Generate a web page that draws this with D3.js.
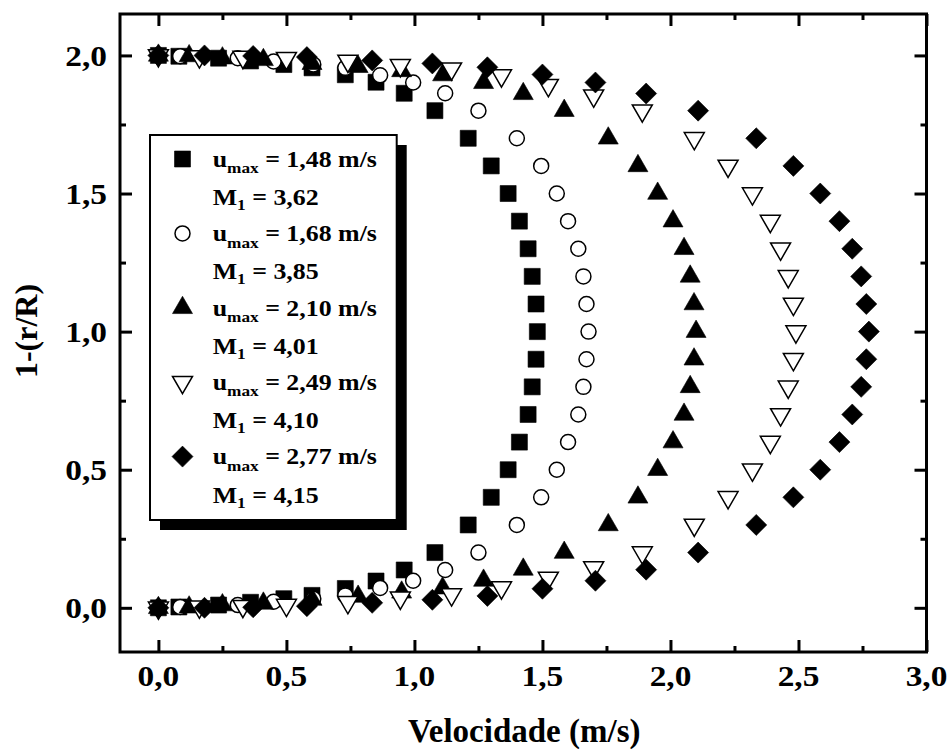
<!DOCTYPE html>
<html><head><meta charset="utf-8">
<script src="https://cdn.jsdelivr.net/npm/d3@7"></script>
<style>
body{margin:0;background:#fff}
svg{display:block}
text{font-family:"Liberation Serif","Times New Roman",serif;font-weight:bold;fill:#000}
</style>
</head><body>
<svg id="chart" width="949" height="756"></svg>
<script>
// ---- data (x = velocity m/s, y = 1-(r/R)) ----
const seriesUmax = ["1,48", "1,68", "2,10", "2,49", "2,77"];
const seriesM1 = ["3,62", "3,85", "4,01", "4,10", "4,15"];

const squareData = [[0,0],[0.08,0.003],[0.235,0.01],[0.36,0.02],[0.49,0.033],[0.6,0.045],[0.73,0.07],[0.85,0.097],[0.96,0.137],[1.08,0.2],[1.21,0.3],[1.3,0.4],[1.366,0.5],[1.41,0.6],[1.444,0.7],[1.46,0.8],[1.475,0.9],[1.48,1.0],[1.475,1.1],[1.46,1.2],[1.444,1.3],[1.41,1.4],[1.366,1.5],[1.3,1.6],[1.21,1.7],[1.08,1.8],[0.96,1.863],[0.85,1.903],[0.73,1.93],[0.6,1.955],[0.49,1.967],[0.36,1.98],[0.235,1.99],[0.08,1.997],[0,2.0]];

const circleData = [[0,0],[0.085,0.003],[0.31,0.01],[0.45,0.022],[0.605,0.033],[0.73,0.045],[0.866,0.072],[0.995,0.098],[1.12,0.137],[1.25,0.2],[1.4,0.3],[1.495,0.4],[1.556,0.5],[1.6,0.6],[1.64,0.7],[1.66,0.8],[1.672,0.9],[1.68,1.0],[1.672,1.1],[1.66,1.2],[1.64,1.3],[1.6,1.4],[1.556,1.5],[1.495,1.6],[1.4,1.7],[1.25,1.8],[1.12,1.863],[0.995,1.902],[0.866,1.928],[0.73,1.955],[0.605,1.967],[0.45,1.978],[0.31,1.99],[0.085,1.997],[0,2.0]];

const triangleData = [[0,0],[0.12,0.002],[0.25,0.01],[0.41,0.016],[0.6,0.03],[0.78,0.041],[0.95,0.056],[1.11,0.071],[1.27,0.099],[1.425,0.139],[1.585,0.2],[1.757,0.3],[1.873,0.4],[1.95,0.5],[2.01,0.6],[2.053,0.7],[2.077,0.8],[2.092,0.9],[2.1,1.0],[2.092,1.1],[2.077,1.2],[2.053,1.3],[2.01,1.4],[1.95,1.5],[1.873,1.6],[1.757,1.7],[1.585,1.8],[1.425,1.861],[1.27,1.901],[1.11,1.929],[0.95,1.944],[0.78,1.959],[0.6,1.97],[0.41,1.984],[0.25,1.99],[0.12,1.998],[0,2.0]];

const invTriangleData = [[0,0],[0.16,0.004],[0.33,0.006],[0.5,0.01],[0.74,0.02],[0.945,0.036],[1.145,0.048],[1.34,0.073],[1.523,0.108],[1.7,0.146],[1.89,0.2],[2.093,0.3],[2.225,0.4],[2.32,0.5],[2.39,0.6],[2.43,0.7],[2.46,0.8],[2.48,0.9],[2.49,1.0],[2.48,1.1],[2.46,1.2],[2.43,1.3],[2.39,1.4],[2.32,1.5],[2.225,1.6],[2.093,1.7],[1.89,1.8],[1.7,1.854],[1.523,1.892],[1.34,1.927],[1.145,1.952],[0.945,1.964],[0.74,1.98],[0.5,1.99],[0.33,1.994],[0.16,1.996],[0,2.0]];

const diamondData = [[0,0],[0.18,0],[0.37,0.002],[0.58,0.006],[0.835,0.018],[1.07,0.029],[1.285,0.043],[1.5,0.069],[1.707,0.098],[1.905,0.138],[2.108,0.2],[2.335,0.3],[2.48,0.4],[2.585,0.5],[2.66,0.6],[2.71,0.7],[2.745,0.8],[2.765,0.9],[2.775,1.0],[2.765,1.1],[2.745,1.2],[2.71,1.3],[2.66,1.4],[2.585,1.5],[2.48,1.6],[2.335,1.7],[2.108,1.8],[1.905,1.862],[1.707,1.902],[1.5,1.931],[1.285,1.957],[1.07,1.971],[0.835,1.982],[0.58,1.994],[0.37,1.998],[0.18,2.0],[0,2.0]];

const xMajorTicks = [0, 0.5, 1.0, 1.5, 2.0, 2.5, 3.0];
const xTickLabels = ["0,0", "0,5", "1,0", "1,5", "2,0", "2,5", "3,0"];
const xMinorTicks = [0.25, 0.75, 1.25, 1.75, 2.25, 2.75];
const yMajorTicks = [0, 0.5, 1.0, 1.5, 2.0];
const yTickLabels = ["0,0", "0,5", "1,0", "1,5", "2,0"];
const yMinorTicks = [0.25, 0.75, 1.25, 1.75];

// ---- layout ----
const svg = d3.select("#chart");
const L = 120, R = 926.5, T = 14, B = 652;
const x = d3.scaleLinear().domain([-0.15, 3.0]).range([L, R]);
const y = d3.scaleLinear().domain([-0.16, 2.15]).range([B, T]);

// marker shapes (centred on centroid)
const shapes = {
  square: s => { const h = 8; return `M${-h},${-h}H${h}V${h}H${-h}Z`; },
  circle: s => { const r = 7.5; return `M${r},0A${r},${r} 0 1,1 ${-r},0A${r},${r} 0 1,1 ${r},0Z`; },
  triangle: s => { const a = 20, h = a*Math.sqrt(3)/2; return `M0,${-2*h/3}L${a/2},${h/3}L${-a/2},${h/3}Z`; },
  invTriangle: s => { const a = 20, h = a*Math.sqrt(3)/2; return `M0,${2*h/3}L${a/2},${-h/3}L${-a/2},${-h/3}Z`; },
  diamond: s => { const d = 10.5; return `M0,${-d}L${d},0L0,${d}L${-d},0Z`; }
};
const series = [
  {data: squareData, shape: "square", fill: "#000"},
  {data: circleData, shape: "circle", fill: "#fff"},
  {data: triangleData, shape: "triangle", fill: "#000"},
  {data: invTriangleData, shape: "invTriangle", fill: "#fff"},
  {data: diamondData, shape: "diamond", fill: "#000"}
];

// points
series.forEach(s => {
  svg.append("g").selectAll("path").data(s.data).join("path")
    .attr("d", shapes[s.shape]())
    .attr("transform", d => `translate(${x(d[0])},${y(d[1])})`)
    .attr("fill", s.fill)
    .attr("stroke", "#000")
    .attr("stroke-width", s.fill === "#fff" ? 1.5 : 0.6);
});

// axes (ticks inward on all sides)
function drawAxis(axisFn, scale, vals, size, transform) {
  const g = svg.append("g").attr("transform", transform)
    .call(axisFn(scale).tickValues(vals).tickSize(size).tickFormat(""));
  g.select(".domain").remove();
  g.selectAll(".tick line").attr("stroke", "#000").attr("stroke-width", 3);
}
drawAxis(d3.axisBottom, x, xMajorTicks, -12, `translate(0,${B})`);
drawAxis(d3.axisBottom, x, xMinorTicks, -6, `translate(0,${B})`);
drawAxis(d3.axisTop, x, xMajorTicks, -12, `translate(0,${T})`);
drawAxis(d3.axisTop, x, xMinorTicks, -6, `translate(0,${T})`);
drawAxis(d3.axisLeft, y, yMajorTicks, -12, `translate(${L},0)`);
drawAxis(d3.axisLeft, y, yMinorTicks, -6, `translate(${L},0)`);
drawAxis(d3.axisRight, y, yMajorTicks, -12, `translate(${R},0)`);
drawAxis(d3.axisRight, y, yMinorTicks, -6, `translate(${R},0)`);

// frame
svg.append("rect").attr("x", L).attr("y", T).attr("width", R - L).attr("height", B - T)
  .attr("fill", "none").attr("stroke", "#000").attr("stroke-width", 3);

// tick labels
svg.append("g").selectAll("g").data(xMajorTicks).join("g")
  .attr("transform", d => `translate(${x(d)},686) scale(1.15,1)`)
  .append("text").attr("text-anchor", "middle").attr("font-size", 29)
  .text((d, i) => xTickLabels[i]);
svg.append("g").selectAll("g").data(yMajorTicks).join("g")
  .attr("transform", d => `translate(107,${y(d) + 10.5}) scale(1.15,1)`)
  .append("text").attr("text-anchor", "end").attr("font-size", 29)
  .text((d, i) => yTickLabels[i]);

// axis titles
svg.append("text").attr("x", (L + R) / 2 + 1).attr("y", 742)
  .attr("text-anchor", "middle").attr("font-size", 33).text("Velocidade (m/s)");
svg.append("text").attr("transform", "translate(37,331) rotate(-90)")
  .attr("text-anchor", "middle").attr("font-size", 32).text("1-(r/R)");

// legend
const lg = svg.append("g");
lg.append("rect").attr("x", 160).attr("y", 145).attr("width", 246.7).attr("height", 385).attr("fill", "#000");
lg.append("rect").attr("x", 150).attr("y", 135).attr("width", 246.7).attr("height", 385)
  .attr("fill", "#fff").attr("stroke", "#000").attr("stroke-width", 2);
const step = 74.4;
series.forEach((s, i) => {
  lg.append("path").attr("d", shapes[s.shape]())
    .attr("transform", `translate(182.5,${159 + step * i})`)
    .attr("fill", s.fill).attr("stroke", "#000").attr("stroke-width", s.fill === "#fff" ? 1.5 : 0.6);
  const t1 = lg.append("g").attr("transform", `translate(212.7,${166.7 + step * i}) scale(1.15,1)`)
    .append("text").attr("font-size", 22.5);
  t1.append("tspan").text("u");
  t1.append("tspan").attr("font-size", 15).attr("dy", 6.5).text("max");
  t1.append("tspan").attr("dy", -6.5).text(` = ${seriesUmax[i]} m/s`);
  const t2 = lg.append("g").attr("transform", `translate(212.7,${205 + step * i}) scale(1.15,1)`)
    .append("text").attr("font-size", 22.5);
  t2.append("tspan").text("M");
  t2.append("tspan").attr("font-size", 15).attr("dy", 5).text("1");
  t2.append("tspan").attr("dy", -5).text(` = ${seriesM1[i]}`);
});
</script>
</body></html>
